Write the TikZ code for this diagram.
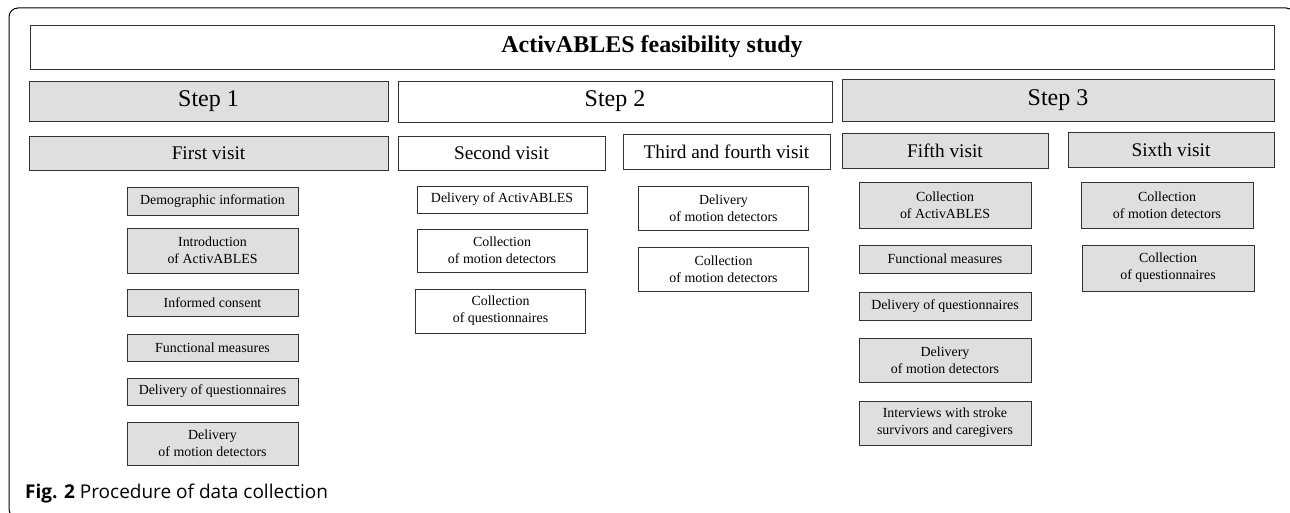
\documentclass[tikz,border=0pt]{standalone}
\usepackage{fontspec}
\setmainfont{Liberation Serif}
\newfontfamily\capfont{Open Sans}
\tikzset{
    box/.style={draw=black!80, line width=0.9pt, inner sep=1pt, align=center},
    greybox/.style={box, fill=gray!25},
    whitebox/.style={box, fill=white},
    steplabel/.style={font=\fontsize{24}{28}\selectfont},
    visitlabel/.style={font=\fontsize{19.3}{23}\selectfont},
    itemlabel/.style={font=\fontsize{13.9}{17}\selectfont},
}
\begin{document}
    \begin{tikzpicture}[x=1pt, y=-1pt]
        \useasboundingbox (0,0) rectangle (1290,513);
        % outer frame
        \draw[line width=1pt, rounded corners=9pt] (9,8) rectangle (1295,518);
        \node[whitebox, minimum width=1244, minimum height=44,
            font=\fontsize{24}{28}\selectfont\bfseries] (title) at (652,47) {ActivABLES feasibility study};
        % steps
        \begin{scope}[steplabel]
            \node[greybox, minimum width=359, minimum height=40] (step1) at (208.5,101) {Step 1};
            \node[whitebox, minimum width=434, minimum height=41] (step2) at (615,101.5) {Step 2};
            \node[greybox, minimum width=432, minimum height=42] (step3) at (1058,100) {Step 3};
        \end{scope}
        % visits
        \begin{scope}[visitlabel]
            \node[greybox, minimum width=359, minimum height=34] (visit1) at (208.5,153) {First visit};
            \node[whitebox, minimum width=207, minimum height=34] (visit2) at (501.5,153) {Second visit};
            \node[whitebox, minimum width=207, minimum height=35] (visit34) at (726.5,151.5) {Third and fourth visit};
            \node[greybox, minimum width=206, minimum height=35] (visit5) at (945,150.5) {Fifth visit};
            \node[greybox, minimum width=206, minimum height=35] (visit6) at (1171,149.5) {Sixth visit};
        \end{scope}
        % step 1 tasks
        \begin{scope}[itemlabel, every node/.style={greybox, minimum width=171}]
            \node[minimum height=28] (demo) at (212.5,201) {Demographic information};
            \node[minimum height=45] (intro) at (212.5,250.5) {Introduction\\of ActivABLES};
            \node[minimum height=27] (consent) at (212.5,302.5) {Informed consent};
            \node[minimum height=27] (func1) at (212.5,347.5) {Functional measures};
            \node[minimum height=27] (quest1) at (212.5,391.5) {Delivery of questionnaires};
            \node[minimum height=43] (motion1) at (212.5,443.5) {Delivery\\of motion detectors};
        \end{scope}
        % step 2 tasks
        \begin{scope}[itemlabel, every node/.style={whitebox, minimum width=170}]
            \node[minimum height=27] (deliv2) at (502,199.5) {Delivery of ActivABLES};
            \node[minimum height=43] (collmot2) at (502,250.5) {Collection\\of motion detectors};
            \node[minimum height=44] (collquest2) at (500.5,311) {Collection\\of questionnaires};
            \node[minimum height=44] (delmot34) at (723.5,208) {Delivery\\of motion detectors};
            \node[minimum height=44] (collmot34) at (723.5,269) {Collection\\of motion detectors};
        \end{scope}
        % step 3 tasks
        \begin{scope}[itemlabel, every node/.style={greybox, minimum width=172}]
            \node[minimum height=46] (collact5) at (945,205) {Collection\\of ActivABLES};
            \node[minimum height=28] (func5) at (945,259) {Functional measures};
            \node[minimum height=28] (quest5) at (945,306) {Delivery of questionnaires};
            \node[minimum height=44] (motion5) at (945,360) {Delivery\\of motion detectors};
            \node[minimum height=44] (interv5) at (945,423) {Interviews with stroke\\survivors and caregivers};
            \node[minimum height=46] (collmot6) at (1167,205) {Collection\\of motion detectors};
            \node[minimum height=46] (collquest6) at (1168,268) {Collection\\of questionnaires};
        \end{scope}
        % caption
        \node[anchor=base west, inner sep=0pt, font=\capfont\fontsize{19}{23}\selectfont] (caption) at (25,498)
            {\textbf{Fig. 2} Procedure of data collection};
    \end{tikzpicture}
\end{document}
